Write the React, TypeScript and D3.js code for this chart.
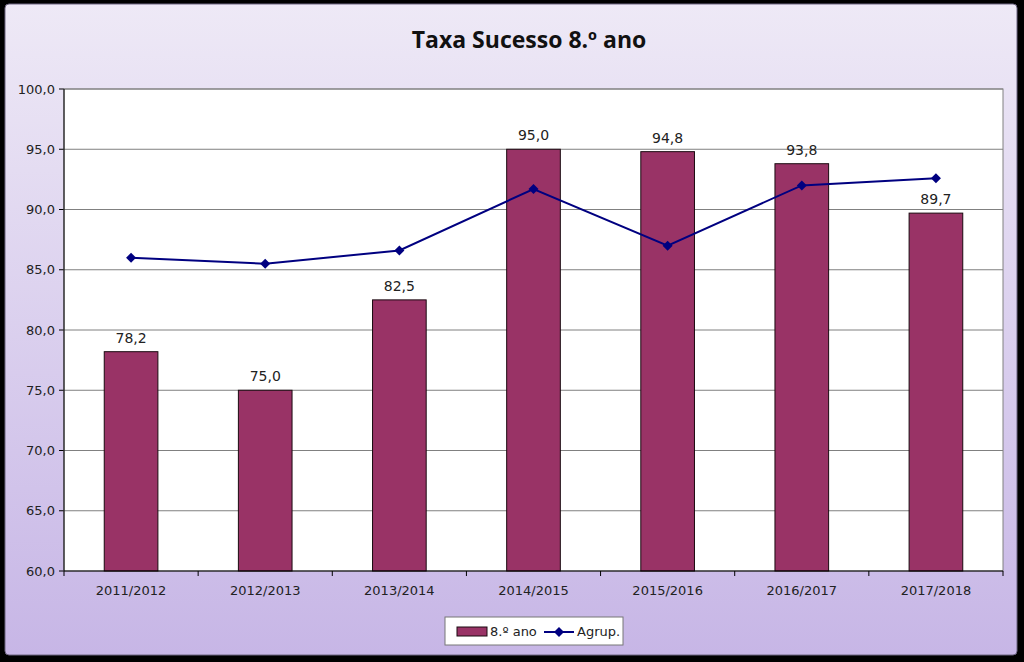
import * as d3 from "d3";

const categories = ["2011/2012", "2012/2013", "2013/2014", "2014/2015", "2015/2016", "2016/2017", "2017/2018"];
const anoValues = [78.2, 75.0, 82.5, 95.0, 94.8, 93.8, 89.7];
const agrupValues = [86.0, 85.5, 86.6, 91.7, 87.0, 92.0, 92.6];
const yTicks = [60, 65, 70, 75, 80, 85, 90, 95, 100];

const W = 1024;
const H = 662;
const plot = { left: 64, right: 1003, top: 89, bottom: 571 };

export default function App() {
  const x = d3.scaleBand().domain(categories).range([plot.left, plot.right]).paddingInner(0.6).paddingOuter(0.3);
  const xOuter = d3.scaleBand().domain(categories).range([plot.left, plot.right]);
  const y = d3.scaleLinear().domain([60, 100]).range([plot.bottom, plot.top]);
  const fmt = (v: number) => v.toFixed(1).replace(".", ",");

  const line = d3
    .line<number>()
    .x((_, i) => xOuter(categories[i])! + xOuter.bandwidth() / 2)
    .y((d) => y(d));

  const font = "Verdana, 'DejaVu Sans', sans-serif";

  return (
    <div style={{ position: "absolute", left: 0, top: 0 }}>
      <svg width={W} height={H} xmlns="http://www.w3.org/2000/svg" style={{ display: "block" }}>
        <defs>
          <linearGradient id="bg" x1="0" y1="0" x2="0" y2="1">
            <stop offset="0" stopColor="#eee9f6" />
            <stop offset="1" stopColor="#c7b6e6" />
          </linearGradient>
        </defs>
        <rect x={0} y={0} width={W} height={H} fill="#000" />
        <rect x={5} y={4} width={1012} height={651} rx={4} fill="url(#bg)" stroke="#6d6480" strokeWidth={1} />

        <text x={529} y={48} textAnchor="middle" fontFamily="'Open Sans', sans-serif" fontWeight="bold" fontSize={23} fill="#111">
          Taxa Sucesso 8.º ano
        </text>

        <rect x={plot.left} y={plot.top} width={plot.right - plot.left} height={plot.bottom - plot.top} fill="#fff" />
        {yTicks.map((t) => (
          <g key={t}>
            {t > 60 && <line x1={plot.left} x2={plot.right} y1={y(t)} y2={y(t)} stroke="#808080" strokeWidth={1} />}
            <line x1={plot.left - 5} x2={plot.left} y1={y(t)} y2={y(t)} stroke="#000" />
            <text x={plot.left - 9} y={y(t) + 4.5} textAnchor="end" fontFamily={font} fontSize={13} fill="#222">
              {fmt(t)}
            </text>
          </g>
        ))}
        <rect x={plot.left} y={plot.top} width={plot.right - plot.left} height={plot.bottom - plot.top} fill="none" stroke="#808080" />

        {anoValues.map((v, i) => (
          <g key={categories[i]}>
            <rect
              x={x(categories[i])}
              y={y(v)}
              width={x.bandwidth()}
              height={y(60) - y(v)}
              fill="#993366"
              stroke="#1a0a10"
              strokeWidth={1}
            />
            <text x={x(categories[i])! + x.bandwidth() / 2} y={y(v) - 9} textAnchor="middle" fontFamily={font} fontSize={14} fill="#222">
              {fmt(v)}
            </text>
          </g>
        ))}

        <line x1={plot.left} x2={plot.left} y1={plot.top} y2={plot.bottom} stroke="#000" />
        <line x1={plot.left} x2={plot.right} y1={plot.bottom} y2={plot.bottom} stroke="#000" />
        {categories.map((c, i) => (
          <g key={c}>
            <line x1={xOuter(c)} x2={xOuter(c)} y1={plot.bottom} y2={plot.bottom + 5} stroke="#000" />
            {i === categories.length - 1 && (
              <line x1={plot.right} x2={plot.right} y1={plot.bottom} y2={plot.bottom + 5} stroke="#000" />
            )}
            <text x={xOuter(c)! + xOuter.bandwidth() / 2} y={plot.bottom + 24} textAnchor="middle" fontFamily={font} fontSize={13} fill="#222">
              {c}
            </text>
          </g>
        ))}

        <path d={line(agrupValues)!} fill="none" stroke="#000080" strokeWidth={2} />
        {agrupValues.map((v, i) => {
          const cx = xOuter(categories[i])! + xOuter.bandwidth() / 2;
          const cy = y(v);
          return <path key={i} d={`M${cx},${cy - 5}L${cx + 5},${cy}L${cx},${cy + 5}L${cx - 5},${cy}Z`} fill="#000080" />;
        })}

        <g>
          <rect x={445} y={617} width={178} height={28} fill="#fff" stroke="#777" />
          <rect x={457} y={627} width={30} height={9} fill="#993366" stroke="#1a0a10" />
          <text x={490} y={636} fontFamily={font} fontSize={13} fill="#222">
            8.º ano
          </text>
          <line x1={544} x2={574} y1={632} y2={632} stroke="#000080" strokeWidth={2} />
          <path d="M559,627L564,632L559,637L554,632Z" fill="#000080" />
          <text x={577} y={636} fontFamily={font} fontSize={13} fill="#222">
            Agrup.
          </text>
        </g>
      </svg>
    </div>
  );
}
